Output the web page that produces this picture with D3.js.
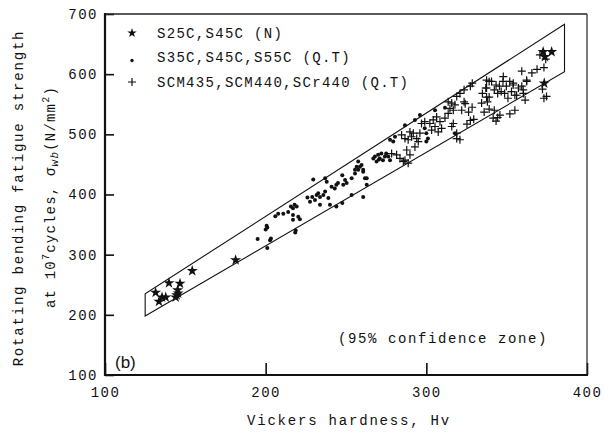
<!DOCTYPE html>
<html>
<head>
<meta charset="utf-8">
<script src="https://cdn.jsdelivr.net/npm/d3@7"></script>
<style>
  body { margin: 0; background: #fff; }
  text { font-family: "Liberation Mono", "DejaVu Sans Mono", monospace; fill: #111; }
  .tick text { font-size: 14px; letter-spacing: 1.5px; }
  .tick line { stroke: #111; stroke-width: 1.6; }
  .domain { display: none; }
</style>
</head>
<body>
<svg width="604" height="437"></svg>
<script>
// S25C,S45C (N)  [Hv, sigma]
var starPts = [
  [131.5, 237], [135.5, 229], [133.6, 222], [137.8, 229], [139.8, 253],
  [146.7, 252], [145.2, 241], [144.6, 233], [144, 229], [145.5, 236],
  [154.3, 273], [181.3, 291],
  [372.7, 637], [378, 637], [373.8, 629], [373.4, 585]
];

// S35C,S45C,S55C (Q.T)
var dotPts = [
  [195, 326], [200.6, 348], [200, 342], [201, 345], [202.7, 324], [201, 311],
  [203.3, 327], [218.4, 337], [217, 358], [206, 364], [207.8, 368], [211, 368],
  [214, 371], [215.7, 380], [217, 377], [218, 383], [219.3, 380], [217, 366],
  [220.3, 363], [221.3, 359], [218.7, 340], [226, 395], [227.6, 388], [229, 396],
  [230.7, 391], [231.7, 399], [232.7, 402], [233.8, 396], [235.9, 399], [237, 405],
  [237, 427], [238, 421], [229.6, 425], [241, 413], [243, 410], [244, 416],
  [245, 419], [247.7, 432], [248.3, 416], [250.4, 419], [249.4, 424], [253.5, 427],
  [239, 394], [244, 380], [247.7, 386], [253.5, 399], [233.8, 383], [240, 383],
  [255.6, 441], [256.6, 446], [257.6, 455], [258.7, 446], [260.7, 438], [260.7, 396],
  [255.6, 435], [259.7, 449], [261.8, 427], [262.9, 416], [260.7, 441], [257.6, 441],
  [262.9, 427], [267, 460], [269, 455], [270, 466], [272, 468], [274.2, 463],
  [273, 457], [275, 468], [276.3, 463], [271, 460], [277.4, 457], [277.4, 491],
  [279.4, 488], [280.5, 496], [299, 510], [300, 502], [301, 493], [300, 488],
  [317.8, 502], [286.7, 515], [292.9, 524], [296, 532], [305.4, 540], [311.6, 544],
  [268, 463], [270.5, 458]
];

// SCM435,SCM440,SCr440 (Q.T)
var plusPts = [
  [278.4, 468], [281.5, 466], [283.6, 460], [287.8, 474], [286.7, 457], [289.8, 466],
  [285.7, 455], [288.7, 452], [284.6, 499], [286.7, 493], [288.7, 491], [290.8, 496],
  [291.9, 502], [289.8, 504], [294, 493], [296, 502], [295, 488], [292.9, 479],
  [297, 518], [299, 521], [302.2, 518], [304.3, 524], [305.4, 513], [306.4, 529],
  [308.5, 521], [309.5, 510], [307.4, 504], [303.3, 507], [311.6, 527], [313.6, 535],
  [314.7, 543], [315.8, 552], [317.8, 549], [316.8, 518], [315.8, 513], [318.9, 502],
  [320.9, 491], [318.9, 493], [320.9, 568], [318.9, 563], [324.2, 551], [327.4, 580],
  [322, 540], [326.3, 537], [328.5, 545], [329.5, 525], [325.3, 517], [327.4, 523],
  [334.9, 568], [337, 577], [339.1, 588], [339.1, 562], [338, 554], [339.1, 542],
  [336, 537], [343.4, 582], [342.3, 574], [344.4, 568], [345.5, 580], [346.6, 571],
  [347.7, 588], [348.7, 568], [349.8, 580], [350.8, 560], [351.9, 588], [353, 571],
  [354, 582], [355.1, 565], [357.3, 577], [359.4, 580], [360.4, 568], [362.5, 588],
  [342.3, 540], [344.4, 528], [343.4, 522], [352, 534], [355.1, 540], [361.5, 557],
  [373.2, 560], [359.4, 605], [365.7, 602], [368.9, 608], [373.2, 611], [374.3, 625],
  [370.7, 632], [374.8, 563], [372.3, 575], [345.8, 532], [341.6, 527], [328.6, 585],
  [323.5, 574], [337.5, 590], [340.6, 588], [337.5, 577], [347.9, 596], [354.1, 585],
  [362.4, 590], [360.3, 574], [356.2, 565], [337.5, 562], [334.4, 552], [316.8, 540],
  [313.6, 554], [323.5, 554]
];

// 95% confidence zone: lower and upper edges
var lowerEdge = [[125, 198], [386, 604]];
var upperEdge = [[125, 235], [386, 683]];

var xTicks = [100, 200, 300, 400];
var yTicks = [100, 200, 300, 400, 500, 600, 700];

var legendItems = [
  {kind: "star", label: "S25C,S45C (N)"},
  {kind: "dot", label: "S35C,S45C,S55C (Q.T)"},
  {kind: "plus", label: "SCM435,SCM440,SCr440 (Q.T)"}
];

var svg = d3.select("svg");
var x = d3.scaleLinear().domain([100, 400]).range([105, 587]);
var y = d3.scaleLinear().domain([100, 700]).range([375, 14]);

// axes with inward ticks
svg.append("g")
    .attr("transform", "translate(0,375)")
    .call(d3.axisBottom(x).tickValues(xTicks).tickSize(-12).tickSizeOuter(0).tickPadding(12))
    .selectAll(".tick text").attr("dy", "0.71em");

svg.append("g")
    .attr("transform", "translate(105,0)")
    .call(d3.axisLeft(y).tickValues(yTicks).tickSize(-9).tickSizeOuter(0).tickPadding(7));

// frame
svg.append("line").attr("x1", 105).attr("x2", 105).attr("y1", 13).attr("y2", 376)
    .attr("stroke", "#111").attr("stroke-width", 2.2);
svg.append("line").attr("x1", 104).attr("x2", 588).attr("y1", 375).attr("y2", 375)
    .attr("stroke", "#111").attr("stroke-width", 2.2);
svg.append("line").attr("x1", 105).attr("x2", 587).attr("y1", 14).attr("y2", 14)
    .attr("stroke", "#222").attr("stroke-width", 1.5);
svg.append("line").attr("x1", 587).attr("x2", 587).attr("y1", 14).attr("y2", 375)
    .attr("stroke", "#222").attr("stroke-width", 1.2);

// confidence zone
var zone = [lowerEdge[0], lowerEdge[1], upperEdge[1], upperEdge[0]];
svg.append("path")
    .datum(zone)
    .attr("d", d3.line().x(function(d) { return x(d[0]); }).y(function(d) { return y(d[1]); }).curve(d3.curveLinearClosed))
    .attr("fill", "none")
    .attr("stroke", "#111")
    .attr("stroke-width", 1.1);

var star = d3.symbol().type(d3.symbolStar).size(38);
function plusPath(s) { return "M" + (-s) + ",0H" + s + "M0," + (-s) + "V" + s; }

svg.append("g").selectAll("path")
    .data(plusPts).enter().append("path")
    .attr("transform", function(d) { return "translate(" + x(d[0]) + "," + y(d[1]) + ")"; })
    .attr("d", plusPath(4))
    .attr("stroke", "#111").attr("stroke-width", 1.2).attr("fill", "none");

svg.append("g").selectAll("circle")
    .data(dotPts).enter().append("circle")
    .attr("cx", function(d) { return x(d[0]); })
    .attr("cy", function(d) { return y(d[1]); })
    .attr("r", 2)
    .attr("fill", "#111");

svg.append("g").selectAll("path")
    .data(starPts).enter().append("path")
    .attr("transform", function(d) { return "translate(" + x(d[0]) + "," + y(d[1]) + ")"; })
    .attr("d", star)
    .attr("fill", "#111");

// legend
var leg = svg.append("g").selectAll("g")
    .data(legendItems).enter().append("g")
    .attr("transform", function(d, i) { return "translate(132," + (33 + i * 24.5) + ")"; });
leg.each(function(d) {
  var g = d3.select(this);
  if (d.kind == "star") g.append("path").attr("d", d3.symbol().type(d3.symbolStar).size(28)).attr("fill", "#111");
  if (d.kind == "dot") g.append("circle").attr("r", 1.7).attr("cy", 3).attr("fill", "#111");
  if (d.kind == "plus") g.append("path").attr("d", plusPath(4)).attr("stroke", "#111").attr("stroke-width", 1.2);
});
leg.append("text")
    .attr("x", 25)
    .attr("dy", "0.35em")
    .style("font-size", "14px")
    .style("letter-spacing", "1.3px")
    .text(function(d) { return d.label; });

// annotations
svg.append("text")
    .attr("x", 115).attr("y", 368)
    .style("font-family", "'Liberation Sans', Arial, sans-serif")
    .style("font-size", "17px")
    .text("(b)");

svg.append("text")
    .attr("x", 338).attr("y", 343)
    .style("font-size", "14px")
    .style("letter-spacing", "1.6px")
    .text("(95% confidence zone)");

svg.append("text")
    .attr("x", 349).attr("y", 425)
    .attr("text-anchor", "middle")
    .style("font-size", "14px")
    .style("letter-spacing", "1.8px")
    .text("Vickers hardness, Hv");

svg.append("text")
    .attr("transform", "translate(23,198) rotate(-90)")
    .attr("text-anchor", "middle")
    .style("font-size", "14px")
    .style("letter-spacing", "1.8px")
    .text("Rotating bending fatigue strength");

var t2 = svg.append("text")
    .attr("transform", "translate(55,197) rotate(-90)")
    .attr("text-anchor", "middle")
    .style("font-size", "14px")
    .style("letter-spacing", "1.2px");
t2.append("tspan").text("at 10");
t2.append("tspan").attr("dy", -6).style("font-size", "10px").text("7");
t2.append("tspan").attr("dy", 6).text("cycles, \u03c3");
t2.append("tspan").attr("dy", 3).style("font-size", "11px").style("font-style", "italic").text("wb");
t2.append("tspan").attr("dy", -3).text("(N/mm");
t2.append("tspan").attr("dy", -6).style("font-size", "10px").text("2");
t2.append("tspan").attr("dy", 6).text(")");
</script>
</body>
</html>
